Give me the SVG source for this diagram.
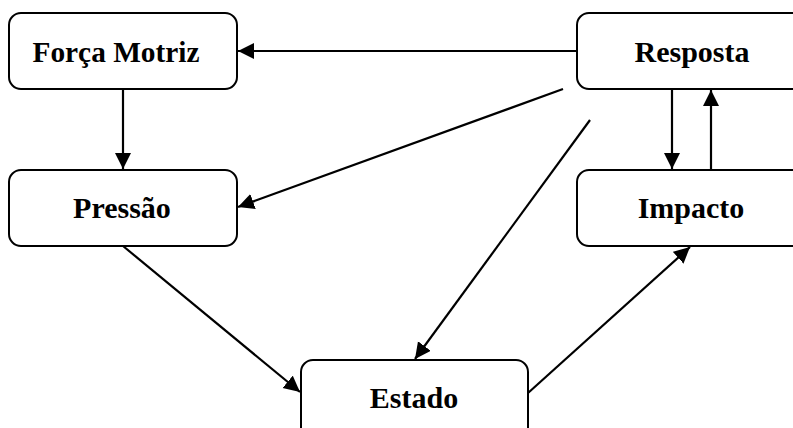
<svg xmlns="http://www.w3.org/2000/svg" width="793" height="428" viewBox="0 0 793 428">
<style>
.box{fill:#fff;stroke:#000;stroke-width:2}
.lbl{font-family:"Liberation Serif","Times New Roman",serif;font-weight:bold;font-size:30px;text-anchor:middle;fill:#000}
.c{stroke:#000;stroke-width:2.2;fill:none}
</style>
<defs>
<marker id="ah" markerUnits="userSpaceOnUse" markerWidth="18" markerHeight="18" refX="16" refY="8" orient="auto">
<path d="M0,0 L16,8 L0,16 Z" fill="#000"/>
</marker>
</defs>
<rect width="793" height="428" fill="#fff"/>
<g id="forca">
<rect class="box" x="9" y="13" width="228" height="76" rx="12"/>
<text class="lbl" x="116" y="62" textLength="167" lengthAdjust="spacingAndGlyphs">Força Motriz</text>
</g>
<g id="pressao">
<rect class="box" x="9" y="170" width="228" height="76" rx="12"/>
<text class="lbl" x="122" y="218">Pressão</text>
</g>
<g id="resposta">
<rect class="box" x="577" y="13" width="228" height="76" rx="12"/>
<text class="lbl" x="692" y="62">Resposta</text>
</g>
<g id="impacto">
<rect class="box" x="577" y="170" width="228" height="76" rx="12"/>
<text class="lbl" x="691" y="218">Impacto</text>
</g>
<g id="estado">
<rect class="box" x="301" y="360" width="227" height="80" rx="12"/>
<text class="lbl" x="414" y="408">Estado</text>
</g>
<g id="connectors">
<line class="c" x1="577" y1="51" x2="238" y2="51" marker-end="url(#ah)"/>
<line class="c" x1="123" y1="89" x2="123" y2="169" marker-end="url(#ah)"/>
<line class="c" x1="563" y1="89" x2="238" y2="207" marker-end="url(#ah)"/>
<line class="c" x1="590" y1="120" x2="415" y2="359" marker-end="url(#ah)"/>
<line class="c" x1="672" y1="89" x2="672" y2="169" marker-end="url(#ah)"/>
<line class="c" x1="711" y1="170" x2="711" y2="90" marker-end="url(#ah)"/>
<line class="c" x1="123" y1="246" x2="300" y2="392" marker-end="url(#ah)"/>
<line class="c" x1="528" y1="393" x2="690" y2="247" marker-end="url(#ah)"/>
</g>
</svg>
